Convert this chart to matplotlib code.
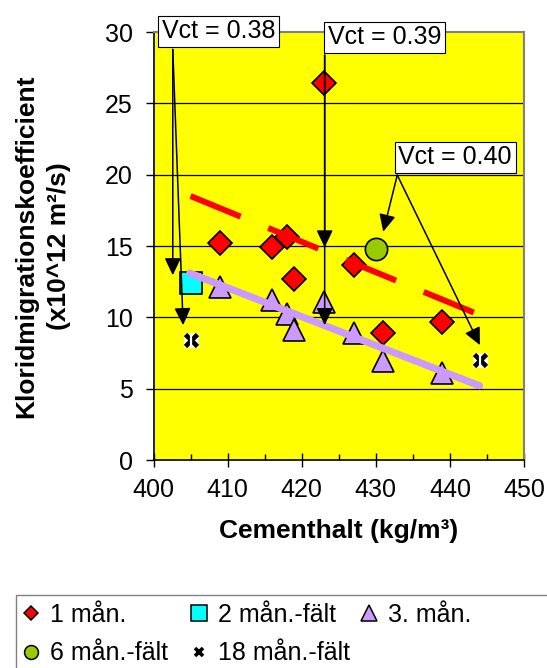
import matplotlib
matplotlib.use("Agg")
import matplotlib.pyplot as plt
from matplotlib.lines import Line2D
from matplotlib.patches import Rectangle
from matplotlib.ticker import MultipleLocator
from matplotlib.legend_handler import HandlerTuple

plt.rcParams['font.family'] = ['Liberation Sans', 'DejaVu Sans']

# ---- data ----
cement_1m = [409, 416, 418, 419, 423, 427, 431, 439]
klor_1m = [15.2, 14.95, 15.6, 12.7, 26.4, 13.7, 8.9, 9.7]
cement_2m = [405]
klor_2m = [12.4]
cement_3m = [409, 416, 418, 419, 423, 427, 431, 439]
klor_3m = [12.1, 11.2, 10.25, 9.1, 11.1, 8.9, 6.95, 6.1]
cement_6m = [430]
klor_6m = [14.8]
cement_18m = [405, 444]
klor_18m = [8.4, 7.0]

trend_1m_x = [405, 443.4]
trend_1m_y = [18.5, 10.3]
trend_3m_x = [404.9, 444]
trend_3m_y = [13.1, 5.2]

vct_labels = ['Vct = 0.38', 'Vct = 0.39', 'Vct = 0.40']
vct_box_xy = [(408.8, 30.04), (431.2, 29.63), (440.7, 21.22)]
vct_arrow_start = [(402.6, 28.78), (423.1, 28.38), (432.9, 19.97)]
vct_arrow_tips = [[(402.6, 12.95), (404.0, 9.45)],
                  [(423.1, 14.9), (423.1, 9.45)],
                  [(431.0, 16.0), (444.05, 8.05)]]

legend_labels = ['1 mån.', '2 mån.-fält', '3. mån.', '6 mån.-fält', '18 mån.-fält']

W, H = 547, 668
fig = plt.figure(figsize=(W / 100, H / 100), dpi=100)
ax = fig.add_axes([153.5 / W, 1 - 460 / H, (524 - 153.5) / W, (460 - 32) / H])
ax.set_facecolor('#FFFF00')
ax.set_xlim(400, 450)
ax.set_ylim(0, 30)
ax.xaxis.set_major_locator(MultipleLocator(10))
ax.xaxis.set_minor_locator(MultipleLocator(5))
ax.yaxis.set_major_locator(MultipleLocator(5))

FS = 18
FSB = 19
ax.tick_params(axis='x', which='major', direction='inout', length=10, width=1, labelsize=FS, pad=8)
ax.tick_params(axis='x', which='minor', direction='in', length=4.5, width=1)
ax.tick_params(axis='y', which='major', direction='out', length=6, width=1, labelsize=FS, pad=9)
for s in ['left', 'bottom']:
    ax.spines[s].set_color('black')
    ax.spines[s].set_linewidth(1.2)
for s in ['top', 'right']:
    ax.spines[s].set_color('#808080')
    ax.spines[s].set_linewidth(1.5)

for yv in [5, 10, 15, 20, 25]:
    ax.axhline(yv, color='black', lw=0.9, zorder=1)

# trend lines (drawn above the markers)
lw_r = 4.3
ax.plot(trend_1m_x, trend_1m_y, color='#FF0000', lw=lw_r, solid_capstyle='butt',
        dash_capstyle='butt', linestyle=(0, (39 / lw_r, 21.5 / lw_r)), zorder=3)
ax.plot(trend_3m_x, trend_3m_y, color='#CC99FF', lw=5.2, solid_capstyle='round', zorder=3)

ec = 'black'
mew = 1.2
ax.plot(cement_3m, klor_3m, '^', ms=16, mfc='#CC99FF', mec=ec, mew=mew, zorder=2.5)
ax.plot(cement_1m, klor_1m, 'D', ms=12.3, mfc='#FF0000', mec=ec, mew=mew, zorder=2.6)
ax.plot(cement_2m, klor_2m, 's', ms=15.5, mfc='#00FFFF', mec=ec, mew=mew, zorder=2.6)
ax.plot(cement_6m, klor_6m, 'o', ms=16, mfc='#99CC00', mec=ec, mew=mew, zorder=2.6)
ax.plot(cement_18m, klor_18m, 's', ms=10.5, mfc='white', mec='white', mew=0.5, zorder=4)
ax.plot(cement_18m, klor_18m, 'x', ms=8, mec='black', mew=3.4, zorder=4.1)
ax.plot(cement_18m, klor_18m, '|', ms=8.5, mec='white', mew=1.6, zorder=4.2)

# annotations
for lab, bxy, start, tips in zip(vct_labels, vct_box_xy, vct_arrow_start, vct_arrow_tips):
    for tip in tips:
        ax.annotate('', xy=tip, xytext=start, xycoords='data', textcoords='data',
                    arrowprops=dict(arrowstyle='-|>,head_length=1.05,head_width=0.5',
                                    mutation_scale=10, color='black', lw=1.1,
                                    shrinkA=0, shrinkB=0),
                    annotation_clip=False, zorder=5)
    ax.text(bxy[0], bxy[1], lab, ha='center', va='center', fontsize=FS, zorder=6,
            clip_on=False,
            bbox=dict(boxstyle='square,pad=0.15', fc='white', ec='black', lw=0.8))

ax.set_xlabel('Cementhalt (kg/m³)', fontsize=FSB, fontweight='bold', labelpad=12)
ax.set_ylabel('Kloridmigrationskoefficient\n(x10^12 m²/s)', fontsize=FSB,
              fontweight='bold', labelpad=24, linespacing=1.5)

# legend
fig.patches.append(Rectangle((16 / W, 1 - 700 / H), 560 / W, (700 - 595) / H,
                             transform=fig.transFigure, fc='white', ec='#808080', lw=1.0))
star_h = (Line2D([], [], ls='none', marker='s', ms=8, mfc='white', mec='white'),
          Line2D([], [], ls='none', marker='x', ms=6, mec='black', mew=2.6),
          Line2D([], [], ls='none', marker='|', ms=6.5, mec='white', mew=1.2))
h_1m = Line2D([], [], ls='none', marker='D', ms=6.8, mfc='#FF0000', mec=ec, mew=1.1)
h_2m = Line2D([], [], ls='none', marker='s', ms=11, mfc='#00FFFF', mec=ec, mew=1.1)
h_3m = Line2D([], [], ls='none', marker='^', ms=11.5, mfc='#CC99FF', mec=ec, mew=1.1)
h_6m = Line2D([], [], ls='none', marker='o', ms=10, mfc='#99CC00', mec=ec, mew=1.1)

# Excel-style fixed-pitch legend columns: rows [1m, 2m, 3m], [6m, 18m]
columns = [([h_1m, h_6m], [legend_labels[0], legend_labels[3]], 22),
           ([h_2m, star_h], [legend_labels[1], legend_labels[4]], 190),
           ([h_3m], [legend_labels[2]], 360)]
for hs, ls, x0 in columns:
    fig.legend(hs, ls, loc='upper left', bbox_to_anchor=(x0 / W, 1 - 603 / H),
               ncol=1, frameon=False, fontsize=FS, handlelength=0.75, handletextpad=0.35,
               labelspacing=0.58, borderaxespad=0, borderpad=0.0,
               handler_map={tuple: HandlerTuple(ndivide=None, pad=0)})

fig.savefig('out.png', dpi=100)
